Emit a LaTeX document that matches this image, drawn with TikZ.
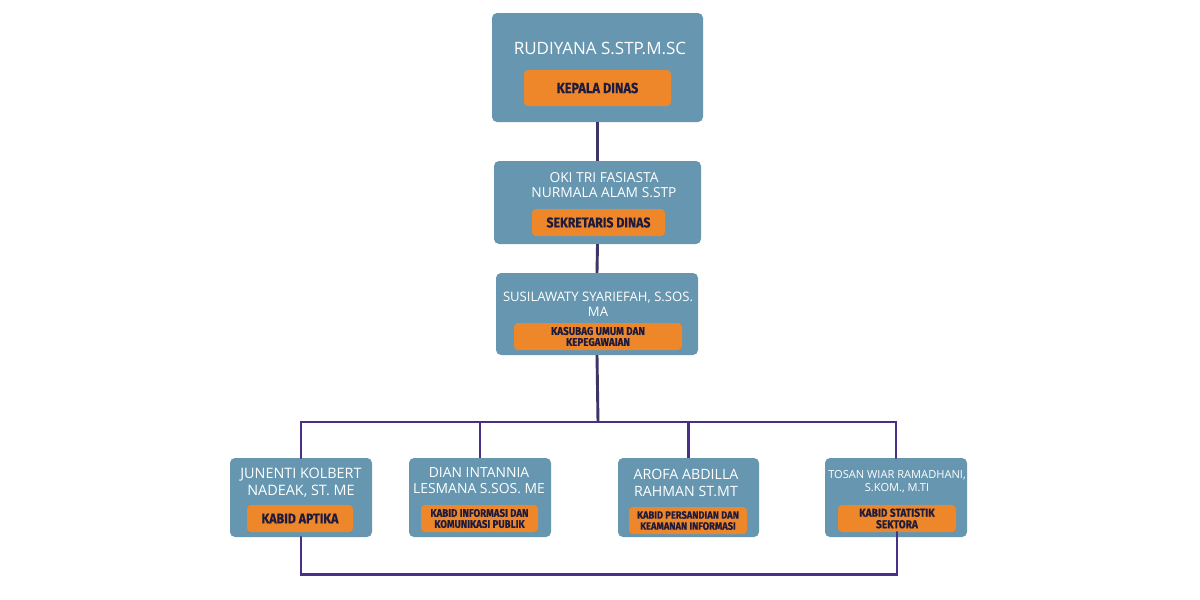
\documentclass[tikz,border=0pt]{standalone}
\usepackage{fontspec}
\setmainfont{Open Sans}
\newfontfamily\labelfam[FakeStretch=0.88,FakeBold=0.4]{Fira Sans}
\newcommand\labelfont{\labelfam\bfseries}
\definecolor{boxblue}{HTML}{6696B0}
\definecolor{boxorange}{HTML}{EE8729}
\definecolor{labeltext}{HTML}{1F1B3D}
\definecolor{connpurple}{HTML}{4A2F86}
\definecolor{conndark}{HTML}{3E3466}
\tikzset{
  bluebox/.style={fill=boxblue, rounded corners=5pt, inner sep=0pt},
  orangebox/.style={fill=boxorange, rounded corners=4pt, inner sep=0pt, text=labeltext, align=center, font=\labelfont},
  nametext/.style={text=white, align=center, inner sep=0pt},
  conn/.style={draw=connpurple, line width=2.9pt},
  conntop/.style={draw=conndark, line width=2.9pt}
}
\begin{document}
\begin{tikzpicture}[x=1pt,y=-1pt]
\fill[white] (0,0) rectangle (1200,600);
\useasboundingbox (0,0) rectangle (1200,600);

\coordinate (bus) at (598,422);

% top box
\node[bluebox, minimum width=211pt, minimum height=109pt] (top) at (597.5,67.5) {};
\node[nametext, font=\fontsize{17}{19}\selectfont] (topname) at (600,48) {RUDIYANA S.STP.M.SC};
\node[orangebox, minimum width=147pt, minimum height=36pt, font=\labelfont\fontsize{14.5}{16}\selectfont] (toplabel) at (597.5,88) {KEPALA DINAS};

% sekretaris
\node[bluebox, minimum width=207pt, minimum height=83pt] (sek) at (597.5,202.5) {};
\node[nametext, font=\fontsize{13.8}{15}\selectfont] (sekname) at (604,185) {OKI TRI FASIASTA\\NURMALA ALAM S.STP};
\node[orangebox, minimum width=133pt, minimum height=27pt, font=\labelfont\fontsize{14}{15}\selectfont] (seklabel) at (598.5,222.5) {SEKRETARIS DINAS};

% kasubag
\node[bluebox, minimum width=202pt, minimum height=82pt] (kas) at (597,314) {};
\node[nametext, font=\fontsize{13.1}{14.5}\selectfont] (kasname) at (598,304) {SUSILAWATY SYARIEFAH, S.SOS.\\MA};
\node[orangebox, minimum width=168pt, minimum height=27pt, font=\labelfont\fontsize{11.2}{11}\selectfont] (kaslabel) at (598,336.5) {KASUBAG UMUM DAN\\KEPEGAWAIAN};

% bottom boxes
\node[bluebox, minimum width=142pt, minimum height=79pt] (b1) at (301,497.5) {};
\node[nametext, font=\fontsize{14.4}{16.5}\selectfont] (b1name) at (301,482.5) {JUNENTI KOLBERT\\NADEAK, ST. ME};
\node[orangebox, minimum width=106pt, minimum height=27pt, font=\labelfont\fontsize{14}{15}\selectfont] (b1label) at (300,518.5) {KABID APTIKA};

\node[bluebox, minimum width=142pt, minimum height=79pt] (b2) at (480,497.5) {};
\node[nametext, font=\fontsize{13.9}{15.5}\selectfont] (b2name) at (479,480.5) {DIAN INTANNIA\\LESMANA S.SOS. ME};
\node[orangebox, minimum width=117pt, minimum height=27pt, font=\labelfont\fontsize{11}{11}\selectfont] (b2label) at (479.5,518.5) {KABID INFORMASI DAN\\KOMUNIKASI PUBLIK};

\node[bluebox, minimum width=141pt, minimum height=79pt] (b3) at (688.5,497.5) {};
\node[nametext, font=\fontsize{14.2}{16.5}\selectfont] (b3name) at (686,483) {AROFA ABDILLA\\RAHMAN ST.MT};
\node[orangebox, minimum width=118pt, minimum height=27pt, font=\labelfont\fontsize{10.6}{11}\selectfont] (b3label) at (688,520.5) {KABID PERSANDIAN DAN\\KEAMANAN INFORMASI};

\node[bluebox, minimum width=142pt, minimum height=79pt] (b4) at (896,497.5) {};
\node[nametext, font=\fontsize{11.1}{13.5}\selectfont] (b4name) at (897,481.5) {TOSAN WIAR RAMADHANI,\\S.KOM., M.TI};
\node[orangebox, minimum width=118pt, minimum height=27pt, font=\labelfont\fontsize{11.5}{11.5}\selectfont] (b4label) at (897,518.5) {KABID STATISTIK\\SEKTORA};

% connectors
\draw[conntop] (top.south) -- (sek.north);
\draw[conntop] (sek.south) -- (kas.north);
\draw[conntop] (kas.south) -- (bus);
\draw[conn, line cap=round] (b1.north) -- (b1.north |- bus) -- (b4.north |- bus) -- (b4.north);
\draw[conn] (b2.north) -- (b2.north |- bus);
\draw[conn] (b3.north) -- (b3.north |- bus);
\draw[conn, line cap=round] (b1.south) -- ++(0,37) coordinate (loopL) -| (b4label.south);
\end{tikzpicture}
\end{document}
